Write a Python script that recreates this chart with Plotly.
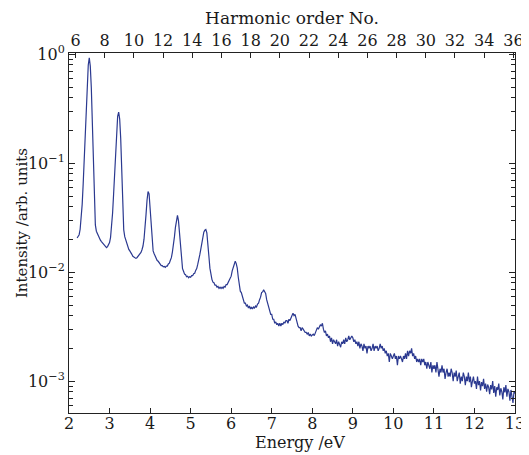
import numpy as np
import plotly.graph_objects as go

energy_start = 2.2
energy_step = 0.025
intensity = [
    # 2.200
    0.0206, 0.0212, 0.0221, 0.0248, 0.0305, 0.0420, 0.0650, 0.1100,
    # 2.400
    0.1900, 0.3300, 0.5500, 0.8000, 0.9300, 0.7800, 0.5000, 0.2400,
    # 2.600
    0.0850, 0.0370, 0.0272, 0.0238, 0.0226, 0.0214, 0.0206, 0.0197,
    # 2.800
    0.0191, 0.0186, 0.0179, 0.0176, 0.0170, 0.0168, 0.0172, 0.0177,
    # 3.000
    0.0187, 0.0209, 0.0262, 0.0350, 0.0520, 0.0850, 0.1400, 0.2100,
    # 3.200
    0.2700, 0.2950, 0.2550, 0.1700, 0.0800, 0.0360, 0.0245, 0.0212,
    # 3.400
    0.0196, 0.0181, 0.0173, 0.0162, 0.0157, 0.0149, 0.0146, 0.0140,
    # 3.600
    0.0138, 0.0137, 0.0134, 0.0136, 0.0140, 0.0142, 0.0149, 0.0152,
    # 3.800
    0.0161, 0.0174, 0.0201, 0.0248, 0.0340, 0.0460, 0.0550, 0.0525,
    # 4.000
    0.0400, 0.0268, 0.0191, 0.0157, 0.0148, 0.0139, 0.0135, 0.0128,
    # 4.200
    0.0126, 0.0121, 0.0120, 0.0115, 0.0115, 0.0112, 0.0113, 0.0111,
    # 4.400
    0.0114, 0.0114, 0.0119, 0.0121, 0.0129, 0.0136, 0.0153, 0.0174,
    # 4.600
    0.0211, 0.0258, 0.0310, 0.0332, 0.0298, 0.0222, 0.0160, 0.0126,
    # 4.800
    0.0108, 0.0102, 0.0096, 0.0095, 0.0091, 0.0092, 0.0089, 0.0091,
    # 5.000
    0.0090, 0.0093, 0.0093, 0.0097, 0.0098, 0.0104, 0.0108, 0.0118,
    # 5.200
    0.0127, 0.0144, 0.0162, 0.0188, 0.0209, 0.0233, 0.0243, 0.0247,
    # 5.400
    0.0230, 0.0191, 0.0141, 0.0109, 0.0091, 0.0086, 0.0081, 0.0080,
    # 5.600
    0.0076, 0.0076, 0.0073, 0.0074, 0.0071, 0.0073, 0.0071, 0.0073,
    # 5.800
    0.0071, 0.0074, 0.0073, 0.0077, 0.0077, 0.0081, 0.0082, 0.0088,
    # 6.000
    0.0092, 0.0103, 0.0111, 0.0122, 0.0126, 0.0120, 0.0109, 0.0090,
    # 6.200
    0.0077, 0.0067, 0.0065, 0.0059, 0.0057, 0.0052, 0.0052, 0.0049,
    # 6.400
    0.0050, 0.0047, 0.0049, 0.0046, 0.0048, 0.0046, 0.0048, 0.0047,
    # 6.600
    0.0049, 0.0048, 0.0051, 0.0052, 0.0056, 0.0059, 0.0065, 0.0066,
    # 6.800
    0.0069, 0.0067, 0.0064, 0.0056, 0.0052, 0.0046, 0.0045, 0.0041,
    # 7.000
    0.0041, 0.0037, 0.0037, 0.0034, 0.0035, 0.0033, 0.0034, 0.0032,
    # 7.200
    0.0034, 0.0032, 0.0034, 0.0033, 0.0035, 0.0034, 0.0036, 0.0036,
    # 7.400
    0.0034, 0.0037, 0.0036, 0.0039, 0.0040, 0.0042, 0.0040, 0.0041,
    # 7.600
    0.0037, 0.0035, 0.0032, 0.0031, 0.0031, 0.0029, 0.0031, 0.0030,
    # 7.800
    0.0029, 0.0028, 0.0028, 0.0027, 0.0028, 0.0026, 0.0027, 0.0026,
    # 8.000
    0.00265, 0.0027, 0.00262, 0.0028, 0.0029, 0.0031, 0.0030, 0.0032,
    # 8.200
    0.0033, 0.0032, 0.0034, 0.0030, 0.0028, 0.0029, 0.0026, 0.0027,
    # 8.400
    0.0025, 0.0026, 0.0023, 0.0025, 0.0022, 0.0024, 0.0023, 0.0022,
    # 8.600
    0.0024, 0.0021, 0.0023, 0.0022, 0.00205, 0.0023, 0.0022, 0.0024,
    # 8.800
    0.0022, 0.0025, 0.0023, 0.0024, 0.0026, 0.0024, 0.0025, 0.0026,
    # 9.000
    0.0025, 0.0023, 0.0024, 0.0022, 0.0023, 0.0021, 0.0023, 0.0020,
    # 9.200
    0.0022, 0.0021, 0.0019, 0.0022, 0.0020, 0.0021, 0.0018, 0.0021,
    # 9.400
    0.0020, 0.0021, 0.0019, 0.0020, 0.0022, 0.0019, 0.0021, 0.0020,
    # 9.600
    0.0021, 0.0019, 0.0020, 0.0022, 0.0020, 0.0021, 0.0019, 0.0020,
    # 9.800
    0.0018, 0.0019, 0.0017, 0.0018, 0.0015, 0.0018, 0.0017, 0.0016,
    # 10.000
    0.0017, 0.0018, 0.0016, 0.0017, 0.0014, 0.0017, 0.0016, 0.0017,
    # 10.200
    0.0016, 0.0015, 0.0017, 0.0016, 0.0018, 0.0016, 0.0019, 0.0017,
    # 10.400
    0.0019, 0.0018, 0.0020, 0.0017, 0.0018, 0.0016, 0.0017, 0.0015,
    # 10.600
    0.0016, 0.0015, 0.0016, 0.0014, 0.0016, 0.0015, 0.0016, 0.0014,
    # 10.800
    0.0015, 0.0013, 0.0015, 0.0014, 0.0013, 0.0015, 0.0012, 0.0014,
    # 11.000
    0.0013, 0.0014, 0.0012, 0.0015, 0.0013, 0.0011, 0.0013, 0.0012,
    # 11.200
    0.0014, 0.0012, 0.0013, 0.00105, 0.0012, 0.0013, 0.0011, 0.0012,
    # 11.400
    0.0011, 0.0013, 0.0012, 0.0010, 0.0012, 0.0011, 0.00125, 0.0010,
    # 11.600
    0.0011, 0.0012, 0.00095, 0.0011, 0.0010, 0.0012, 0.0011, 0.00092,
    # 11.800
    0.0011, 0.0010, 0.0012, 0.00098, 0.0011, 0.00088, 0.0010, 0.0011,
    # 12.000
    0.00095, 0.0010, 0.00085, 0.0011, 0.00092, 0.0010, 0.00082, 0.00098,
    # 12.200
    0.0009, 0.00105, 0.00085, 0.00095, 0.0008, 0.00093, 0.00088, 0.00076,
    # 12.400
    0.00092, 0.00084, 0.0010, 0.00078, 0.0009, 0.00072, 0.00088, 0.00083,
    # 12.600
    0.00095, 0.00074, 0.00086, 0.0008, 0.00068, 0.00088, 0.00079, 0.00092,
    # 12.800
    0.00072, 0.00085, 0.0008, 0.00066, 0.00083, 0.00075, 0.00063, 0.0008,
    # 13.000
    0.00077,
]
energy = [round(energy_start + energy_step * i, 3) for i in range(len(intensity))]

# Axis ticks
energy_ticks = [2, 3, 4, 5, 6, 7, 8, 9, 10, 11, 12, 13]
harmonic_ticks = [6, 8, 10, 12, 14, 16, 18, 20, 22, 24, 26, 28, 30, 32, 34, 36]
photon_energy_eV = 0.36
y_tickvals = [1e-3, 1e-2, 1e-1, 1]
y_ticktext = ["10<sup>−3</sup>", "10<sup>−2</sup>", "10<sup>−1</sup>", "10<sup>0</sup>"]
y_minor_digits = [2, 3, 4, 5, 6, 7, 8, 9]
y_minor_decades = [1e-4, 1e-3, 1e-2, 1e-1]
y_minor_ticks = [d * dec for dec in y_minor_decades for d in y_minor_digits]

x_range = [2, 13]
y_range = [np.log10(5.1e-4), np.log10(1.03)]

FONT = "DejaVu Serif"
LINE = "#2B3990"
AX = "#222222"
TXT = "#1a1a1a"

fig = go.Figure()
fig.add_trace(go.Scatter(x=energy, y=intensity, mode="lines",
                         line=dict(color=LINE, width=1.2), showlegend=False))
# invisible trace to attach the top (harmonic order) axis
fig.add_trace(go.Scatter(x=[x_range[0] / photon_energy_eV, x_range[1] / photon_energy_eV],
                         y=[1e-3, 1e-3], xaxis="x2", mode="lines",
                         line=dict(width=0), opacity=0, showlegend=False, hoverinfo="skip"))

# the page body adds an 8 px offset at left/top, so the figure is 8 px smaller there
fig.update_layout(
    width=521, height=447,
    margin=dict(l=61, r=14, t=45, b=42),
    paper_bgcolor="white", plot_bgcolor="white",
    font=dict(family=FONT, size=15, color=TXT),
    xaxis=dict(range=x_range, tickvals=energy_ticks, ticks="inside", ticklen=5,
               tickcolor=AX, showline=True, linecolor=AX, linewidth=1, mirror=False,
               showgrid=False, zeroline=False, automargin=False, ticklabelstandoff=-4,
               tickfont=dict(family=FONT, size=16, color=TXT)),
    xaxis2=dict(range=[x_range[0] / photon_energy_eV, x_range[1] / photon_energy_eV],
                overlaying="x", side="top", anchor="y", automargin=False,
                tickvals=harmonic_ticks, ticks="inside", ticklen=5, tickcolor=AX,
                showline=True, linecolor=AX, linewidth=1, showgrid=False, zeroline=False,
                tickfont=dict(family=FONT, size=16, color=TXT),
                title=dict(text="Harmonic order No.", font=dict(family=FONT, size=17, color=TXT), standoff=1)),
    yaxis=dict(type="log", range=y_range, tickvals=y_tickvals, ticktext=y_ticktext,
               ticks="inside", ticklen=6, tickcolor=AX, showline=True, linecolor=AX,
               linewidth=1, mirror="ticks", showgrid=False, zeroline=False, automargin=False,
               tickfont=dict(family=FONT, size=16, color=TXT),
               minor=dict(tickvals=y_minor_ticks, ticks="inside", ticklen=4, tickcolor=AX, showgrid=False)),
    annotations=[
        dict(text="Energy /eV", xref="paper", yref="paper", x=0.518, y=-0.083,
             xanchor="center", yanchor="middle", showarrow=False,
             font=dict(family=FONT, size=16, color=TXT)),
        dict(text="Intensity /arb. units", xref="paper", yref="paper", x=-0.105, y=0.528,
             xanchor="center", yanchor="middle", textangle=-90, showarrow=False,
             font=dict(family=FONT, size=15, color=TXT)),
    ],
)

fig.write_html("out.html")
